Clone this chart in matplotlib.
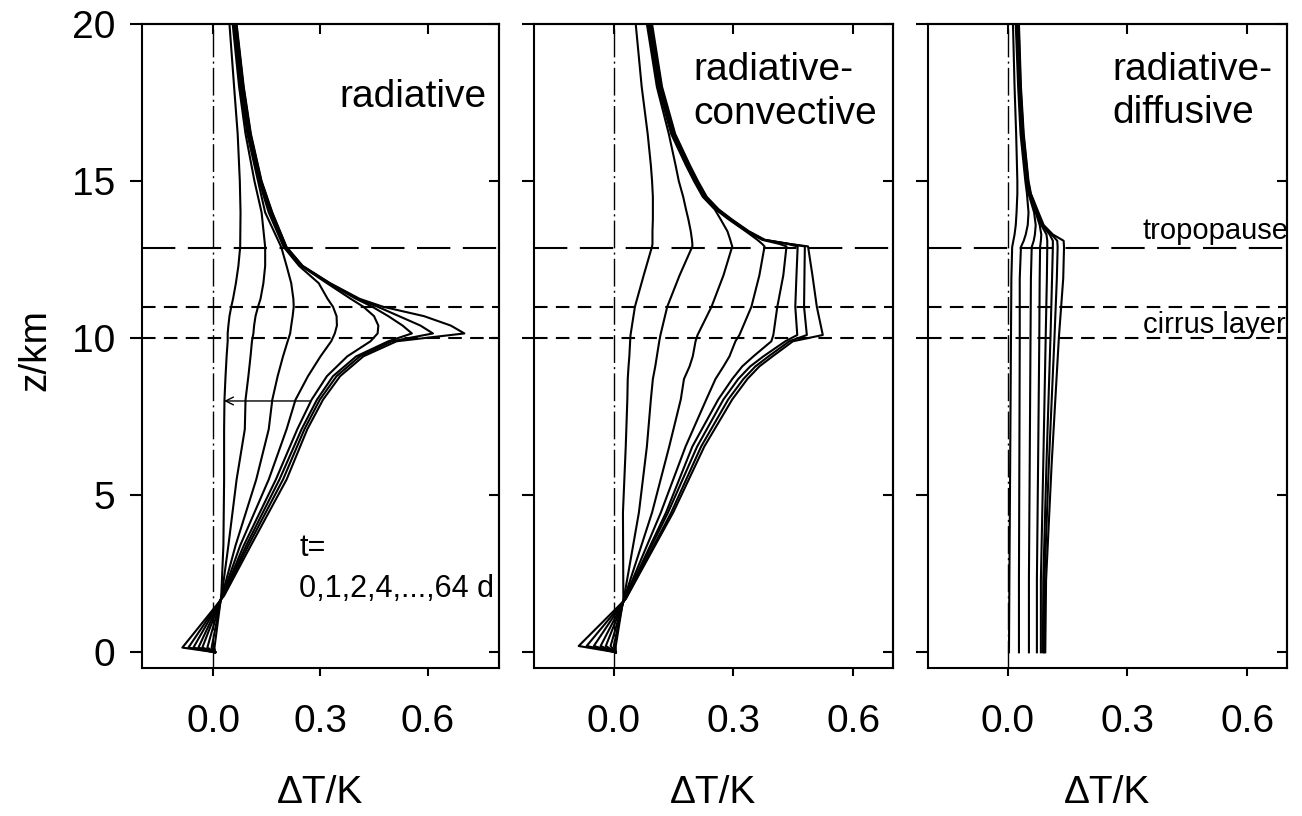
import matplotlib
matplotlib.use('Agg')
import matplotlib.pyplot as plt

plt.rcParams['font.family'] = ['Liberation Sans', 'DejaVu Sans']

# ---------------- data ----------------
# panel 1: radiative (curves t = 0,1,2,4,8,16,32,64 d)
z_rad = [0, 0.15, 1.8, 3.4, 5.5, 7.1, 8.04, 8.79, 9.42, 9.9, 10.15, 10.4, 10.7,
         11.0, 11.25, 11.75, 12.3, 12.9, 14.0, 15.0, 16.5, 18.0, 20.0]
rad_t0 = [.005, -.087, .030, .105, .205, .263, .307, .355, .420, .513, .703, .665, .590,
          .475, .410, .327, .250, .205, .165, .135, .105, .085, .065]
rad_t1 = [.005, -.070, .028, .098, .195, .255, .298, .345, .410, .500, .615, .580, .520,
          .460, .405, .325, .249, .204, .164, .134, .104, .084, .064]
rad_t2 = [.005, -.056, .027, .092, .185, .247, .290, .335, .400, .490, .556, .530, .490,
          .445, .400, .322, .248, .203, .163, .133, .103, .083, .063]
rad_t4 = [.005, -.042, .026, .085, .175, .235, .275, .318, .375, .440, .460, .462, .450,
          .420, .385, .318, .246, .200, .160, .130, .100, .080, .061]
rad_t8 = [.005, -.031, .025, .075, .155, .205, .230, .265, .300, .330, .340, .346, .345,
          .335, .320, .295, .240, .197, .155, .128, .098, .078, .059]
rad_t16 = [.005, -.017, .024, .062, .120, .155, .165, .180, .195, .208, .215, .218, .222,
           .225, .224, .218, .205, .190, .145, .125, .095, .075, .057]
rad_t32 = [.005, -.005, .023, .042, .065, .088, .090, .098, .104, .108, .112, .114, .118,
           .125, .132, .140, .145, .145, .135, .115, .090, .072, .054]
rad_t64 = [.005, .003, .022, .028, .030, .030, .031, .034, .037, .040, .040, .042, .045,
           .050, .055, .063, .070, .075, .076, .074, .068, .058, .045]

# panel 2: radiative-convective
z_con = [0, 0.2, 1.7, 4.45, 6.55, 8.05, 8.7, 9.1, 9.42, 9.9, 10.1, 11.0, 12.0, 12.92,
         13.0, 13.13, 13.4, 13.78, 14.1, 14.5, 15.0, 15.5, 16.5, 18.0, 20.0]
con_t0 = [.005, -.088, .030, .149, .227, .297, .335, .365, .398, .449, .524, .509, .498, .487,
          .440, .379, .339, .296, .263, .233, .211, .191, .154, .121, .096]
con_t1 = [.005, -.068, .030, .144, .219, .287, .325, .355, .388, .440, .484, .477, .478, .479,
          .440, .377, .337, .294, .261, .231, .209, .189, .152, .119, .094]
con_t2 = [.005, -.050, .029, .136, .209, .275, .312, .342, .375, .430, .460, .455, .458, .461,
          .435, .375, .335, .292, .259, .229, .207, .187, .150, .117, .092]
con_t4 = [.005, -.033, .028, .131, .197, .262, .297, .322, .350, .395, .400, .410, .425, .433,
          .415, .372, .333, .290, .257, .227, .205, .185, .148, .115, .090]
con_t8 = [.005, -.020, .027, .118, .180, .232, .255, .275, .290, .305, .315, .345, .365, .378,
          .372, .360, .331, .288, .255, .225, .203, .183, .146, .113, .088]
con_t16 = [.005, -.008, .026, .096, .139, .168, .176, .190, .198, .205, .210, .245, .275, .297,
           .295, .292, .285, .268, .253, .223, .201, .181, .144, .111, .086]
con_t32 = [.005, .000, .025, .063, .083, .093, .098, .104, .108, .114, .117, .134, .165, .197,
           .197, .196, .193, .187, .181, .174, .163, .155, .138, .108, .083]
con_t64 = [.005, .005, .024, .023, .030, .034, .035, .037, .039, .041, .042, .053, .075, .096,
           .097, .097, .097, .098, .098, .098, .096, .093, .085, .070, .055]

# panel 3: radiative-diffusive
z_dif = [0, 2.3, 6.0, 10.0, 11.9, 12.9, 13.1, 13.3, 13.6, 14.0, 14.6, 15.0, 16.5, 18.0, 20.0]
dif_1 = [.094, .096, .110, .128, .139, .141, .140, .113, .090, .077, .058, .052, .040, .033, .028]
dif_2 = [.091, .092, .103, .117, .123, .125, .124, .110, .088, .075, .057, .051, .039, .032, .027]
dif_3 = [.088, .089, .097, .107, .111, .113, .113, .105, .086, .074, .056, .050, .038, .031, .026]
dif_4 = [.083, .083, .089, .095, .098, .099, .099, .097, .084, .072, .055, .049, .037, .030, .025]
dif_5 = [.073, .073, .076, .079, .080, .081, .083, .084, .080, .070, .054, .048, .036, .029, .024]
dif_6 = [.053, .053, .055, .057, .058, .060, .065, .068, .070, .066, .052, .046, .034, .028, .022]
dif_7 = [.028, .028, .029, .030, .030, .033, .040, .045, .050, .052, .048, .044, .032, .026, .020]
dif_8 = [.003, .004, .006, .008, .009, .011, .014, .017, .020, .022, .024, .024, .021, .017, .013]

z_tropopause = 12.88
z_cirrus_top = 11.0
z_cirrus_bottom = 10.0

panel_titles = [["radiative"], ["radiative-", "convective"], ["radiative-", "diffusive"]]
xticks = [0.0, 0.3, 0.6]
xticklabels = ["0.0", "0.3", "0.6"]
yticks = [0, 5, 10, 15, 20]
yticklabels = ["0", "5", "10", "15", "20"]
time_label_1 = "t="
time_label_2 = "0,1,2,4,...,64 d"
arrow_z = 8.0
arrow_from = 0.27
arrow_to = 0.03

# ---------------- figure ----------------
W, H = 1302, 816
fig = plt.figure(figsize=(W / 100, H / 100), dpi=100)

px_lr = [(142, 499), (534, 893), (928, 1287)]
px_top, px_bot = 24, 668
xlims = [(-0.2, 0.8), (-0.2, 0.7), (-0.2, 0.7)]

panels = [
    (z_rad, [rad_t0, rad_t1, rad_t2, rad_t4, rad_t8, rad_t16, rad_t32, rad_t64]),
    (z_con, [con_t0, con_t1, con_t2, con_t4, con_t8, con_t16, con_t32, con_t64]),
    (z_dif, [dif_1, dif_2, dif_3, dif_4, dif_5, dif_6, dif_7, dif_8]),
]

axes = []
for i, ((l, r), (zs, curves)) in enumerate(zip(px_lr, panels)):
    ax = fig.add_axes([l / W, 1 - px_bot / H, (r - l) / W, (px_bot - px_top) / H])
    axes.append(ax)
    ax.set_xlim(*xlims[i])
    ax.set_ylim(-0.5, 20)

    ax.axvline(0, color='black', lw=1.0, dashes=(20, 3, 1.5, 3), zorder=1)
    ax.axhline(z_tropopause, color='black', lw=1.5, dashes=(16, 6), zorder=1)
    ax.axhline(z_cirrus_top, color='black', lw=1.5, dashes=(6.5, 4), zorder=1)
    ax.axhline(z_cirrus_bottom, color='black', lw=1.5, dashes=(6.5, 4), zorder=1)

    for xs in curves:
        ax.plot(xs, zs, color='black', lw=1.5, solid_joinstyle='round', zorder=2)

    for sp in ax.spines.values():
        sp.set_linewidth(1.5)

    ax.set_xticks(xticks)
    ax.set_xticklabels(xticklabels)
    ax.set_yticks(yticks)
    ax.tick_params(axis='x', direction='out', length=6, width=1.5, labelsize=28, pad=20)
    ax.tick_params(axis='y', direction='out', length=8.5, width=1.5, labelsize=28, pad=11)
    if i == 0:
        ax.set_yticklabels(yticklabels)
    else:
        ax.set_yticklabels([])

    sx = ax.secondary_xaxis('top')
    sx.set_xticks(xticks)
    sx.set_xticklabels([])
    sx.tick_params(direction='in', length=7, width=1.5)
    sx.spines['top'].set_linewidth(1.5)
    sy = ax.secondary_yaxis('right')
    sy.set_yticks(yticks)
    sy.set_yticklabels([])
    sy.tick_params(direction='in', length=7, width=1.5)
    sy.spines['right'].set_linewidth(1.5)

    fig.text(((l + r) / 2) / W, 1 - 793 / H, "\u0394T/K", fontsize=28,
             ha='center', va='center')

# panel titles
axes[0].text(0.966, 0.871, panel_titles[0][0], transform=axes[0].transAxes,
             fontsize=28, ha='right', va='baseline')
axes[1].text(0.443, 0.913, panel_titles[1][0], transform=axes[1].transAxes,
             fontsize=28, ha='left', va='baseline')
axes[1].text(0.443, 0.845, panel_titles[1][1], transform=axes[1].transAxes,
             fontsize=28, ha='left', va='baseline')
axes[2].text(0.513, 0.913, panel_titles[2][0], transform=axes[2].transAxes,
             fontsize=28, ha='left', va='baseline')
axes[2].text(0.513, 0.846, panel_titles[2][1], transform=axes[2].transAxes,
             fontsize=28, ha='left', va='baseline')

# annotations
axes[2].text(0.3375, 13.16, "tropopause", fontsize=21, ha='left', va='baseline')
axes[2].text(0.34, 10.17, "cirrus layer", fontsize=21, ha='left', va='baseline')
axes[0].text(0.24, 3.06, time_label_1, fontsize=22, ha='left', va='baseline')
axes[0].text(0.24, 1.75, time_label_2, fontsize=22, ha='left', va='baseline')
axes[0].annotate("", xy=(arrow_to, arrow_z), xytext=(arrow_from, arrow_z),
                 arrowprops=dict(arrowstyle='->', color='black', lw=1.0,
                                 mutation_scale=14, shrinkA=0, shrinkB=0))

fig.text(35 / W, 1 - 350 / H, "z/km", fontsize=28, rotation=90, ha='center', va='center')

fig.savefig("out.png", dpi=100, facecolor='white')
